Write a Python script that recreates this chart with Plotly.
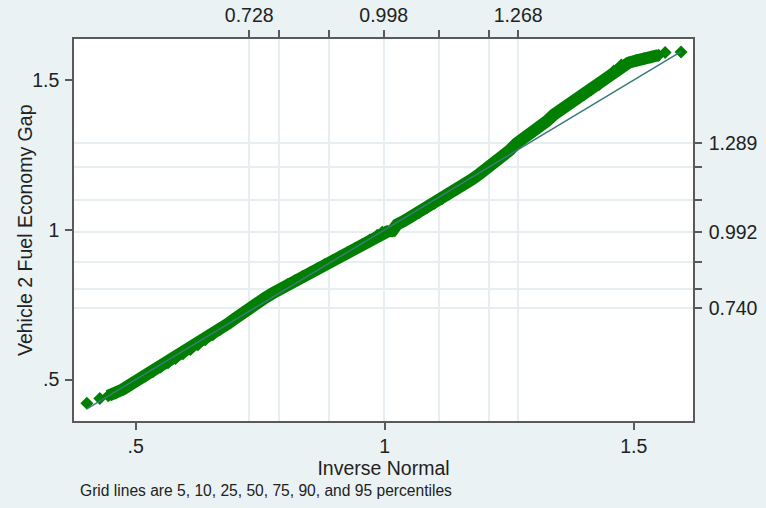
import plotly.graph_objects as go

# Quantiles of the normal (x) and sorted sample values (y)
normal_q = [0.402, 0.428, 0.445, 0.460, 0.475, 0.490, 0.505, 0.520, 0.535, 0.550,
            0.565, 0.580, 0.595, 0.610, 0.625, 0.640, 0.655, 0.670, 0.685, 0.700,
            0.715, 0.730, 0.745, 0.760, 0.775, 0.790, 0.805, 0.820, 0.835, 0.850,
            0.865, 0.880, 0.895, 0.910, 0.925, 0.940, 0.955, 0.970, 0.985, 0.995,
            1.005, 1.015, 1.025, 1.040, 1.055, 1.070, 1.085, 1.100, 1.115, 1.130,
            1.145, 1.160, 1.175, 1.190, 1.205, 1.220, 1.235, 1.250, 1.265, 1.280,
            1.295, 1.310, 1.325, 1.340, 1.355, 1.370, 1.385, 1.400, 1.415, 1.430,
            1.445, 1.460, 1.475, 1.490, 1.505, 1.520, 1.535, 1.550, 1.563, 1.595]
gap_q = [0.421, 0.437, 0.446, 0.455, 0.468, 0.484, 0.499, 0.512, 0.527, 0.542,
         0.556, 0.570, 0.586, 0.600, 0.616, 0.633, 0.650, 0.668, 0.686, 0.704,
         0.724, 0.741, 0.757, 0.773, 0.788, 0.802, 0.817, 0.831, 0.844, 0.857,
         0.871, 0.884, 0.897, 0.910, 0.923, 0.937, 0.951, 0.966, 0.982, 0.992,
         0.994, 0.996, 1.018, 1.031, 1.045, 1.059, 1.074, 1.089, 1.104, 1.120,
         1.136, 1.152, 1.168, 1.186, 1.204, 1.224, 1.243, 1.264, 1.289, 1.305,
         1.322, 1.342, 1.362, 1.385, 1.403, 1.420, 1.436, 1.452, 1.468, 1.484,
         1.506, 1.530, 1.550, 1.558, 1.565, 1.571, 1.577, 1.583, 1.592, 1.594]

# Percentile grid (5, 10, 25, 50, 75, 90, 95)
pct_normal = [0.728, 0.787, 0.888, 0.998, 1.110, 1.210, 1.268]
pct_normal_text = ["0.728", "", "", "0.998", "", "", "1.268"]
pct_data = [0.740, 0.802, 0.891, 0.992, 1.099, 1.210, 1.289]
pct_data_text = ["0.740", "", "", "0.992", "", "", "1.289"]

main_ticks = [0.5, 1, 1.5]
main_tick_text = [".5", "1", "1.5"]

x_title = "Inverse Normal"
y_title = "Vehicle 2 Fuel Economy Gap"
note = "Grid lines are 5, 10, 25, 50, 75, 90, and 95 percentiles"

GREEN = "#007F00"
REF = "#3A7A7E"
AXIS = "#5A5A5A"
GRID = "#E6EEF1"
BG = "#EAF2F3"
TEXT = "#222222"
FONT = "Liberation Sans, Arial, sans-serif"

x_range = [0.3762, 1.619]
y_range = [0.3617, 1.637]

fig = go.Figure()
# dense band (tail points drawn as separate markers)
fig.add_trace(go.Scatter(x=normal_q[2:-2], y=gap_q[2:-2], mode="lines",
                         line=dict(color=GREEN, width=12), hoverinfo="skip",
                         showlegend=False))
fig.add_trace(go.Scatter(x=normal_q, y=gap_q, mode="markers",
                         marker=dict(symbol="diamond", size=10, color=GREEN,
                                     line=dict(width=0)),
                         showlegend=False))
lo, hi = normal_q[0], normal_q[-1]
fig.add_trace(go.Scatter(x=[lo, hi], y=[lo, hi], mode="lines",
                         line=dict(color=REF, width=1.5),
                         xaxis="x2", yaxis="y2", showlegend=False))

axis_common = dict(showline=True, linecolor=AXIS, linewidth=1.5, ticks="outside",
                   ticklen=7, tickwidth=1.5, tickcolor=AXIS, zeroline=False,
                   tickfont=dict(family=FONT, size=19.5, color=TEXT),
                   automargin=False)

fig.update_layout(
    width=766, height=508,
    margin=dict(l=74, r=73, t=39, b=87),
    paper_bgcolor=BG, plot_bgcolor="white",
    font=dict(family=FONT, color=TEXT),
    showlegend=False,
    xaxis=dict(range=x_range, tickvals=main_ticks, ticktext=main_tick_text,
               showgrid=False, ticklabelstandoff=0,
               title=dict(text=x_title, font=dict(family=FONT, size=19.5), standoff=0),
               **axis_common),
    xaxis2=dict(range=x_range, overlaying="x", side="top", anchor="y",
                tickvals=pct_normal, ticktext=pct_normal_text,
                showgrid=True, gridcolor=GRID, gridwidth=1.5,
                ticklabelstandoff=0, **axis_common),
    yaxis=dict(range=y_range, tickvals=main_ticks, ticktext=main_tick_text,
               showgrid=False, ticklabelstandoff=2, **axis_common),
    yaxis2=dict(range=y_range, overlaying="y", side="right", anchor="x",
                tickvals=pct_data, ticktext=pct_data_text,
                showgrid=True, gridcolor=GRID, gridwidth=1.5,
                ticklabelstandoff=3, **axis_common),
    annotations=[
        dict(text=y_title, textangle=-90, xref="paper", yref="paper",
             x=-(74 - 25) / 619, y=(421 - 230) / 382, xanchor="center", yanchor="middle",
             showarrow=False, font=dict(family=FONT, size=19.5, color=TEXT)),
        dict(text=note, xref="paper", yref="paper", x=0.006, y=-0.1825,
             xanchor="left", yanchor="middle", showarrow=False,
             font=dict(family=FONT, size=15.6, color=TEXT)),
    ],
)

fig.write_html("out.html", config={"displayModeBar": False},
               post_script="document.body.style.margin='0';")
